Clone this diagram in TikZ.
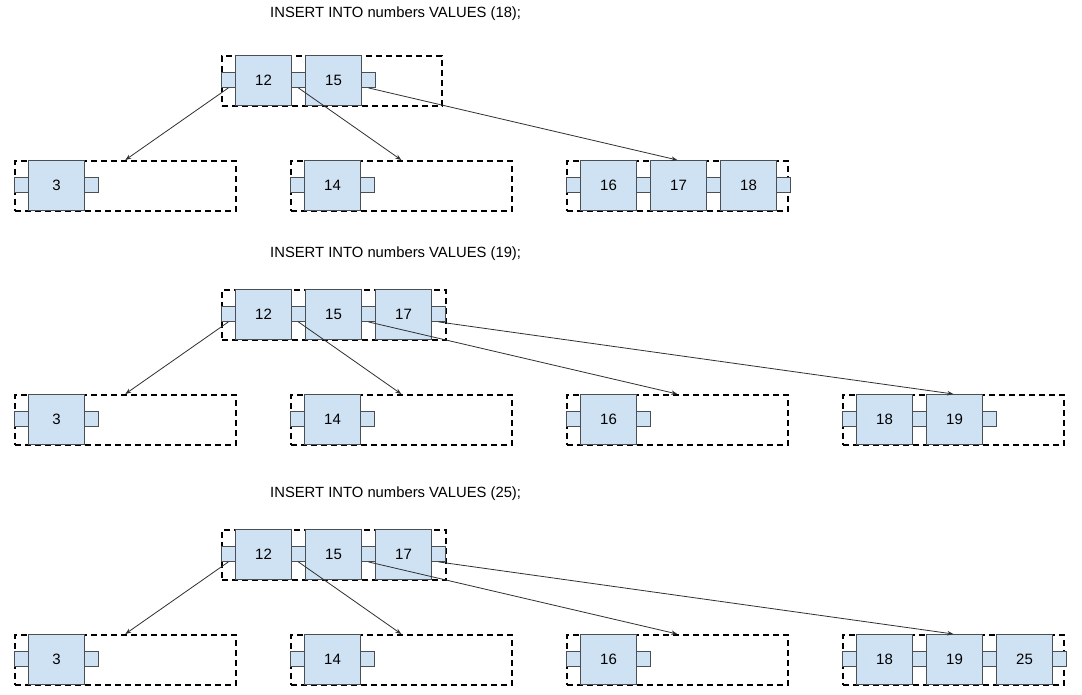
\documentclass[tikz,border=0pt]{standalone}
\usepackage{fontspec}
\setmainfont{Liberation Sans}
\usetikzlibrary{arrows.meta,calc}
\definecolor{keyfill}{HTML}{CFE2F3}
\definecolor{keyline}{HTML}{4A4F56}
\definecolor{arrline}{HTML}{303030}
\tikzset{
  capbox/.style={draw=black, line width=1.6pt, dash pattern=on 6pt off 4pt, minimum height=50pt, inner sep=0pt, anchor=north west},
  keybox/.style={draw=keyline, fill=keyfill, line width=1pt, minimum width=56pt, minimum height=50pt, inner sep=0pt, anchor=north west, font=\fontsize{15}{18}\selectfont},
  ptrbox/.style={draw=keyline, fill=keyfill, line width=0.8pt, minimum width=14pt, minimum height=15pt, inner sep=0pt, anchor=west},
  arr/.style={draw=arrline, line width=0.8pt, -{Stealth[length=6pt,width=4.5pt]}},
  sqltext/.style={anchor=west, inner sep=0pt, font=\fontsize{14.8}{18}\selectfont}
}
% #1 name, #2 x, #3 y top, #4 capacity width, #5 keys
\newcommand{\btnode}[5]{%
  \node[capbox, minimum width=#4] (#1) at (#2,#3) {};
  \node[ptrbox] (#1-p0) at (#2,#3+25) {};
  \foreach \k [count=\i] in {#5} {
    \pgfmathsetmacro\kx{#2+14+(\i-1)*70}
    \pgfmathsetmacro\px{#2+\i*70}
    \node[keybox] (#1-k\i) at (\kx,#3) {\k};
    \node[ptrbox] (#1-p\i) at (\px,#3+25) {};
  }
}
\begin{document}
\begin{tikzpicture}[x=1pt,y=-1pt]
\fill[white] (0,0) rectangle (1082,695);
\useasboundingbox (0,0) rectangle (1082,695);

% ---------- Row 1 ----------
\node[sqltext] (t1) at (270,14) {INSERT INTO numbers VALUES (18);};
\btnode{ra}{221}{55}{220}{12,15}
\btnode{raa}{14}{160}{221}{3}
\btnode{rab}{290}{160}{221}{14}
\btnode{rac}{566}{160}{221}{16,17,18}
\draw[arr] (ra-p0.south) -- (raa.north);
\draw[arr] (ra-p1.south) -- (rab.north);
\draw[arr] (ra-p2.south) -- (rac.north);

% ---------- Row 2 ----------
\node[sqltext] (t2) at (270,254) {INSERT INTO numbers VALUES (19);};
\btnode{rb}{221}{289}{224}{12,15,17}
\btnode{rba}{14}{394}{221}{3}
\btnode{rbb}{290}{394}{221}{14}
\btnode{rbc}{566}{394}{221}{16}
\btnode{rbd}{842}{394}{221}{18,19}
\draw[arr] (rb-p0.south) -- (rba.north);
\draw[arr] (rb-p1.south) -- (rbb.north);
\draw[arr] (rb-p2.south) -- (rbc.north);
\draw[arr] (rb-p3.south) -- (rbd.north);

% ---------- Row 3 ----------
\node[sqltext] (t3) at (270,494) {INSERT INTO numbers VALUES (25);};
\btnode{rc}{221}{529}{224}{12,15,17}
\btnode{rca}{14}{634}{221}{3}
\btnode{rcb}{290}{634}{221}{14}
\btnode{rcc}{566}{634}{221}{16}
\btnode{rcd}{842}{634}{221}{18,19,25}
\draw[arr] (rc-p0.south) -- (rca.north);
\draw[arr] (rc-p1.south) -- (rcb.north);
\draw[arr] (rc-p2.south) -- (rcc.north);
\draw[arr] (rc-p3.south) -- (rcd.north);
\end{tikzpicture}
\end{document}
